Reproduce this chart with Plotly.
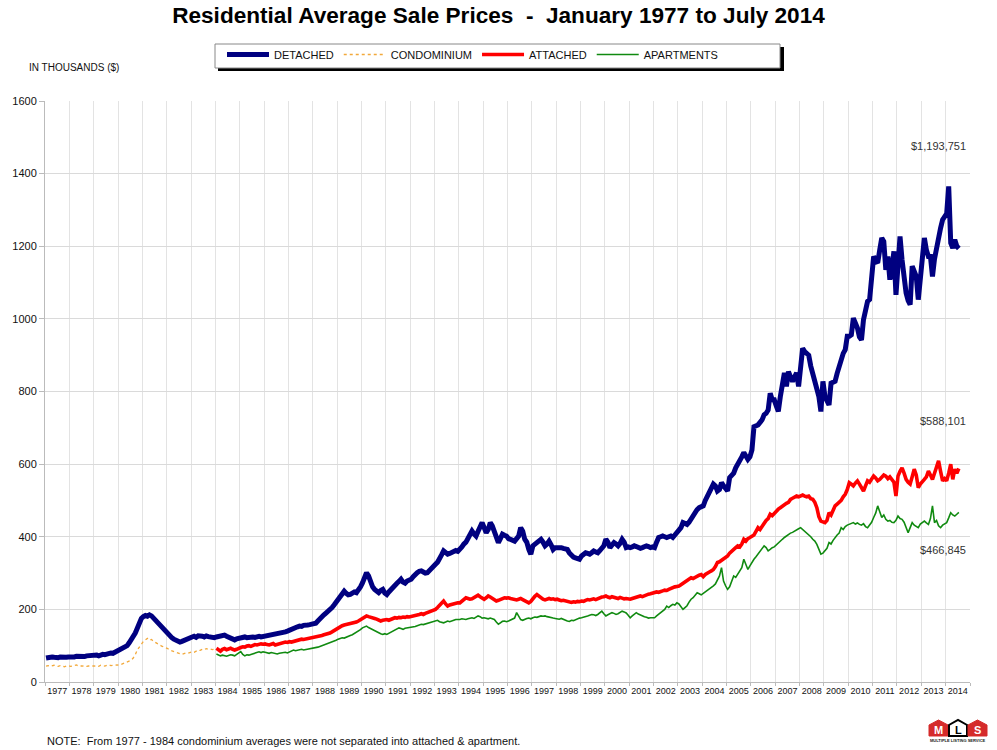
import plotly.graph_objects as go

# ---------------- DATA (monthly averages, thousands of $) ----------------
years = list(range(1977, 2015))
tick_labels = [str(y) for y in years]

detached = [
    # 1977
    66, 68, 67, 69, 68, 66, 67, 69, 68, 67, 68, 69,
    # 1978
    68, 70, 69, 71, 70, 72, 71, 70, 72, 73, 71, 72,
    # 1979
    73, 74, 72, 75, 76, 75, 77, 78, 80, 79, 82, 84,
    # 1980
    86, 88, 91, 95, 100, 108, 116, 125, 135, 148, 162, 175,
    # 1981
    180, 183, 181, 185, 182, 176, 170, 163, 157, 150, 142, 136,
    # 1982
    130, 126, 122, 118, 114, 111, 110, 112, 115, 118, 120, 121,
    # 1983
    124, 126, 123, 127, 128, 126, 124, 127, 125, 123, 121, 122,
    # 1984
    124, 126, 128, 130, 129, 126, 123, 120, 117, 116, 119, 121,
    # 1985
    123, 125, 124, 122, 123, 125, 124, 123, 125, 126, 124, 125,
    # 1986
    127, 128, 129, 131, 130, 132, 131, 133, 134, 136, 138, 140,
    # 1987
    143, 145, 147, 150, 152, 154, 153, 156, 155, 157, 158, 159,
    # 1988
    159, 162, 168, 175, 180, 185, 190, 194, 200, 205, 212, 220,
    # 1989
    223, 232, 245, 250, 244, 240, 241, 245, 248, 246, 252, 262,
    # 1990
    273, 290, 301, 292, 275, 262, 255, 248, 246, 252, 255, 245,
    # 1991
    241, 248, 255, 262, 268, 272, 277, 283, 275, 272, 278, 280,
    # 1992
    283, 290, 298, 301, 305, 306, 303, 300, 301, 308, 315, 320,
    # 1993
    324, 330, 338, 350, 361, 355, 352, 354, 356, 358, 362, 360,
    # 1994
    365, 372, 380, 385, 395, 410, 416, 408, 402, 415, 430, 439,
    # 1995
    425, 411, 420, 439, 430, 416, 400, 384, 395, 407, 404, 402,
    # 1996
    395, 393, 390, 388, 395, 402, 425, 415, 393, 385, 365, 352,
    # 1997
    375, 380, 384, 388, 393, 385, 375, 380, 388, 378, 365, 370,
    # 1998
    370, 372, 370, 368, 366, 365, 355, 347, 344, 342, 340, 338,
    # 1999
    347, 350, 356, 354, 352, 356, 361, 358, 356, 362, 370, 375,
    # 2000
    393, 385, 370, 378, 384, 380, 375, 382, 393, 385, 370, 372,
    # 2001
    370, 372, 375, 373, 370, 368, 370, 372, 375, 373, 370, 372,
    # 2002
    370, 385, 398, 400, 402, 400, 398, 400, 402, 398, 405, 410,
    # 2003
    416, 425, 439, 436, 434, 440, 450, 457, 465, 475, 480, 482,
    # 2004
    485, 500, 510, 526, 535, 545, 540, 526, 530, 549, 540, 530,
    # 2005
    526, 563, 570, 575, 590, 598, 609, 620, 632, 625, 613, 620,
    # 2006
    639, 703, 705, 708, 715, 722, 736, 740, 749, 795, 777, 777,
    # 2007
    760, 745, 786, 820, 851, 814, 855, 840, 828, 840, 851, 814,
    # 2008
    860, 919, 910, 906, 900, 870, 851, 820, 805, 786, 745, 828,
    # 2009
    786, 775, 763, 823, 826, 828, 850, 873, 896, 905, 915, 952,
    # 2010
    952, 956, 1002, 990, 975, 950, 942, 998, 1020, 1048, 1053, 1100,
    # 2011
    1172, 1160, 1154, 1190, 1223, 1213, 1135, 1172, 1108, 1140, 1186, 1066,
    # 2012
    1145, 1227, 1163, 1100, 1071, 1050, 1039, 1145, 1130, 1117, 1053, 1108,
    # 2013
    1160, 1223, 1190, 1172, 1172, 1117, 1165, 1200, 1223, 1250, 1273, 1282,
    # 2014 (Jan - Jul)
    1290, 1365, 1209, 1195, 1218, 1200, 1194,
]

condominium = [
    # 1977
    44, 45, 43, 44, 46, 44, 43, 45, 44, 42, 44, 45,
    # 1978
    43, 44, 45, 47, 44, 43, 44, 45, 43, 44, 45, 44,
    # 1979
    44, 45, 43, 46, 45, 44, 46, 47, 45, 46, 48, 47,
    # 1980
    46, 48, 50, 52, 55, 58, 60, 66, 75, 88, 97, 106,
    # 1981
    112, 116, 120, 115, 117, 112, 108, 106, 102, 99, 97, 94,
    # 1982
    92, 88, 86, 84, 80, 78, 77, 76, 78, 80, 79, 81,
    # 1983
    83, 82, 85, 88, 87, 90, 89, 92, 90, 91, 89, 90,
]

attached = [
    # 1984
    93, 88, 85, 90, 92, 89, 91, 93, 90, 88, 90, 94,
    # 1985
    95, 97, 96, 99, 100, 98, 101, 103, 102, 104, 105, 104,
    # 1986
    105, 103, 102, 104, 106, 102, 104, 105, 107, 108, 110, 109,
    # 1987
    111, 110, 112, 113, 115, 116, 118, 117, 118, 119, 120, 121,
    # 1988
    122, 124, 125, 127, 128, 130, 131, 133, 135, 138, 142, 145,
    # 1989
    149, 152, 155, 157, 158, 159, 160, 162, 163, 165, 168, 172,
    # 1990
    177, 180, 182, 180, 179, 177, 175, 173, 170, 168, 170, 172,
    # 1991
    172, 170, 173, 175, 177, 176, 178, 177, 179, 178, 180, 179,
    # 1992
    180, 182, 184, 185, 186, 188, 186, 189, 191, 193, 196, 198,
    # 1993
    200, 205, 212, 218, 223, 215, 209, 212, 214, 216, 217, 218,
    # 1994
    218, 222, 226, 232, 230, 228, 229, 232, 236, 239, 235, 230,
    # 1995
    228, 232, 237, 234, 230, 226, 223, 225, 228, 230, 232, 231,
    # 1996
    232, 230, 229, 228, 226, 228, 230, 227, 224, 221, 218, 222,
    # 1997
    230, 236, 241, 236, 232, 228, 226, 229, 230, 228, 229, 227,
    # 1998
    228, 226, 224, 225, 223, 221, 220, 219, 221, 220, 222, 221,
    # 1999
    223, 222, 225, 227, 226, 228, 229, 227, 230, 232, 234, 235,
    # 2000
    237, 234, 232, 235, 233, 232, 230, 233, 231, 229, 230, 228,
    # 2001
    228, 230, 232, 234, 236, 237, 235, 238, 240, 242, 243, 245,
    # 2002
    246, 248, 247, 250, 251, 253, 252, 255, 258, 260, 262, 263,
    # 2003
    264, 268, 272, 278, 282, 285, 287, 285, 289, 292, 294, 296,
    # 2004
    290, 296, 301, 303, 306, 310, 318, 329, 331, 335, 342, 345,
    # 2005
    347, 355, 361, 365, 370, 375, 372, 380, 393, 388, 395, 398,
    # 2006
    402, 405, 415, 425, 420, 430, 439, 445, 450, 462, 458, 465,
    # 2007
    470, 476, 480, 485, 489, 492, 495, 503, 506, 508, 512, 510,
    # 2008
    512, 515, 512, 510, 512, 505, 503, 495, 480, 455, 443, 440,
    # 2009
    439, 445, 466, 460, 475, 485, 490, 494, 500, 510, 517, 530,
    # 2010
    549, 545, 540, 548, 554, 545, 535, 526, 540, 554, 550, 560,
    # 2011
    567, 562, 554, 558, 563, 570, 567, 560, 565, 558, 550, 512,
    # 2012
    567, 580, 590, 575, 558, 550, 545, 565, 586, 570, 535, 545,
    # 2013
    550, 558, 565, 581, 570, 558, 575, 590, 609, 580, 554, 560,
    # 2014
    554, 575, 600, 558, 586, 575, 588,
]

apartments = [
    # 1984
    77, 75, 72, 74, 73, 71, 73, 75, 74, 72, 76, 80,
    # 1985
    84, 76, 72, 75, 74, 76, 78, 80, 82, 83, 81, 83,
    # 1986
    82, 80, 79, 81, 80, 78, 77, 79, 80, 81, 82, 80,
    # 1987
    83, 85, 88, 86, 87, 89, 90, 88, 89, 90, 91, 92,
    # 1988
    92, 94, 96, 98, 100, 102, 103, 105, 108, 110, 112, 115,
    # 1989
    118, 120, 122, 121, 124, 126, 128, 130, 133, 136, 140, 144,
    # 1990
    149, 152, 154, 150, 147, 144, 140, 138, 135, 133, 131, 133,
    # 1991
    131, 134, 137, 140, 143, 146, 149, 147, 145, 148, 149, 148,
    # 1992
    149, 151, 153, 155, 157, 159, 158, 160, 162, 164, 166, 167,
    # 1993
    168, 170, 166, 164, 163, 165, 168, 166, 169, 170, 172, 171,
    # 1994
    172, 174, 173, 172, 174, 176, 177, 175, 178, 182, 180, 176,
    # 1995
    177, 175, 174, 176, 173, 172, 165, 159, 163, 167, 168, 166,
    # 1996
    168, 170, 172, 176, 191, 180, 172, 170, 173, 175, 176, 174,
    # 1997
    177, 179, 178, 180, 182, 181, 182, 180, 178, 177, 176, 175,
    # 1998
    174, 173, 175, 172, 170, 168, 167, 170, 169, 172, 174, 176,
    # 1999
    177, 178, 180, 182, 184, 186, 185, 183, 186, 190, 195, 188,
    # 2000
    182, 185, 188, 191, 189, 186, 188, 191, 195, 193, 190, 184,
    # 2001
    177, 182, 186, 191, 187, 184, 182, 180, 178, 176, 177, 178,
    # 2002
    177, 182, 186, 191, 195, 200, 209, 205, 210, 214, 212, 218,
    # 2003
    215, 208, 200, 205, 210, 220, 228, 232, 238, 246, 243, 240,
    # 2004
    244, 248, 251, 256, 260, 265, 270, 280, 292, 315, 278, 265,
    # 2005
    255, 262, 275, 292, 288, 298, 306, 315, 338, 325, 310, 320,
    # 2006
    330, 338, 345, 352, 360, 368, 375, 370, 361, 365, 370, 372,
    # 2007
    378, 384, 388, 393, 398, 402, 407, 410, 412, 416, 420, 422,
    # 2008
    425, 420, 416, 412, 407, 400, 393, 388, 379, 365, 352, 355,
    # 2009
    361, 368, 384, 380, 390, 398, 405, 410, 425, 420, 428, 432,
    # 2010
    434, 436, 439, 435, 438, 434, 432, 436, 428, 425, 432, 440,
    # 2011
    453, 465, 485, 470, 453, 460, 448, 443, 445, 440, 439, 445,
    # 2012
    457, 450, 448, 440, 425, 411, 425, 439, 432, 428, 425, 435,
    # 2013
    440, 443, 438, 434, 450, 485, 439, 445, 430, 425, 432, 436,
    # 2014
    439, 452, 466, 460, 457, 462, 467,
]

end_labels = ["$1,193,751", "$588,101", "$466,845"]


def month_axis(start_year, n):
    # position of each monthly value (mid-month) on a fractional-year axis
    return [start_year + (i + 0.5) / 12.0 for i in range(n)]


FONT = "Arial, 'Liberation Sans', sans-serif"
W, H = 997, 750
ML, MR, MT, MB = 45, 27, 101, 68
PW, PH = W - ML - MR, H - MT - MB


def px(x):
    return (x - ML) / PW


def py(y):
    return (H - MB - y) / PH


fig = go.Figure()

fig.add_trace(go.Scatter(
    x=month_axis(1977, len(detached)), y=detached, name="DETACHED",
    mode="lines", line=dict(color="#000080", width=5)))
fig.add_trace(go.Scatter(
    x=month_axis(1977, len(condominium)), y=condominium, name="CONDOMINIUM",
    mode="lines", line=dict(color="#F2A93B", width=1.3, dash="dot")))
fig.add_trace(go.Scatter(
    x=month_axis(1984, len(attached)), y=attached, name="ATTACHED",
    mode="lines", line=dict(color="#FF0000", width=3.6)))
fig.add_trace(go.Scatter(
    x=month_axis(1984, len(apartments)), y=apartments, name="APARTMENTS",
    mode="lines", line=dict(color="#108A10", width=1.6)))

annotations = [
    dict(text="IN THOUSANDS ($)", x=px(27), y=py(67), xref="paper", yref="paper",
         xanchor="left", yanchor="middle", showarrow=False,
         font=dict(family=FONT, size=10, color="#111")),
    dict(text=end_labels[0], x=px(968), y=py(146), xref="paper", yref="paper",
         xanchor="right", yanchor="middle", showarrow=False,
         font=dict(family=FONT, size=11, color="#333")),
    dict(text=end_labels[1], x=px(968), y=py(421), xref="paper", yref="paper",
         xanchor="right", yanchor="middle", showarrow=False,
         font=dict(family=FONT, size=11, color="#333")),
    dict(text=end_labels[2], x=px(968), y=py(550), xref="paper", yref="paper",
         xanchor="right", yanchor="middle", showarrow=False,
         font=dict(family=FONT, size=11, color="#333")),
    dict(text="NOTE:  From 1977 - 1984 condominium averages were not separated into attached &amp; apartment.",
         x=px(45), y=py(741), xref="paper", yref="paper",
         xanchor="left", yanchor="middle", showarrow=False,
         font=dict(family=FONT, size=11, color="#111")),
    # logo letters
    dict(text="<b>M</b>", x=px(938.5), y=py(730), xref="paper", yref="paper",
         xanchor="center", yanchor="middle", showarrow=False,
         font=dict(family=FONT, size=11, color="white")),
    dict(text="<b>L</b>", x=px(958), y=py(730), xref="paper", yref="paper",
         xanchor="center", yanchor="middle", showarrow=False,
         font=dict(family=FONT, size=11, color="black")),
    dict(text="<b>S</b>", x=px(977.5), y=py(730), xref="paper", yref="paper",
         xanchor="center", yanchor="middle", showarrow=False,
         font=dict(family=FONT, size=11, color="white")),
    dict(text="<b>MULTIPLE LISTING SERVICE</b>", x=px(958), y=py(740), xref="paper", yref="paper",
         xanchor="center", yanchor="middle", showarrow=False,
         font=dict(family=FONT, size=4, color="#222")),
]


def house(x0, x1, y_top, y_roof, y_bot):
    xm = (x0 + x1) / 2
    pts = [(x0, y_bot), (x0, y_roof), (xm, y_top), (x1, y_roof), (x1, y_bot)]
    return "M " + " L ".join(f"{px(a):.5f},{py(b):.5f}" for a, b in pts) + " Z"


shapes = [
    # legend drop shadow
    dict(type="rect", xref="paper", yref="paper",
         x0=px(218), x1=px(784), y0=py(71), y1=py(47),
         fillcolor="black", line=dict(width=0)),
    # legend frame
    dict(type="rect", xref="paper", yref="paper",
         x0=px(215), x1=px(780), y0=py(68), y1=py(44),
         fillcolor="white", line=dict(color="#888888", width=1)),
    # logo houses
    dict(type="path", xref="paper", yref="paper", path=house(929, 948, 720, 725, 736),
         fillcolor="#D52B2B", line=dict(color="#D52B2B", width=1)),
    dict(type="path", xref="paper", yref="paper", path=house(949, 967, 720, 725, 736),
         fillcolor="white", line=dict(color="black", width=2)),
    dict(type="path", xref="paper", yref="paper", path=house(968, 987, 720, 725, 736),
         fillcolor="#D52B2B", line=dict(color="#D52B2B", width=1)),
]

fig.update_layout(
    width=W, height=H, autosize=False,
    margin=dict(l=ML, r=MR, t=MT, b=MB),
    paper_bgcolor="white", plot_bgcolor="white",
    font=dict(family=FONT, size=11, color="#111"),
    title=dict(text="<b>Residential Average Sale Prices  -  January 1977 to July 2014</b>",
               x=0.5, xref="container", xanchor="center",
               y=1 - 15 / H, yref="container", yanchor="middle",
               font=dict(family=FONT, size=22.6, color="black")),
    showlegend=True,
    legend=dict(orientation="h", x=px(222), y=py(40), xanchor="left", yanchor="top",
                bgcolor="rgba(0,0,0,0)", borderwidth=0,
                font=dict(family=FONT, size=11, color="#111"),
                traceorder="normal", itemwidth=42, entrywidth=0),
    annotations=annotations,
    shapes=shapes,
)

fig.update_xaxes(
    range=[1977, 2015], showgrid=False, zeroline=False,
    tickmode="array", tickvals=[y + 0.5 for y in years], ticktext=tick_labels,
    ticks="", tickfont=dict(family=FONT, size=9, color="#111"),
    showline=True, linecolor="#BBBBBB", linewidth=1,
    minor=dict(tick0=1977, dtick=1, showgrid=True, gridcolor="#E3E3E3",
               gridwidth=1, ticks="outside", ticklen=3, tickcolor="#BBBBBB"),
    mirror=False,
)
fig.update_yaxes(
    range=[0, 1600], dtick=200, tick0=0, showgrid=True, gridcolor="#DADADA",
    gridwidth=1, zeroline=False, showline=True, linecolor="#BBBBBB", linewidth=1,
    ticks="outside", ticklen=5, tickcolor="#BBBBBB",
    tickfont=dict(family=FONT, size=11, color="#111"),
)

fig.write_html("out.html", config={"displayModeBar": False},
               post_script="document.body.style.margin='0px';")
